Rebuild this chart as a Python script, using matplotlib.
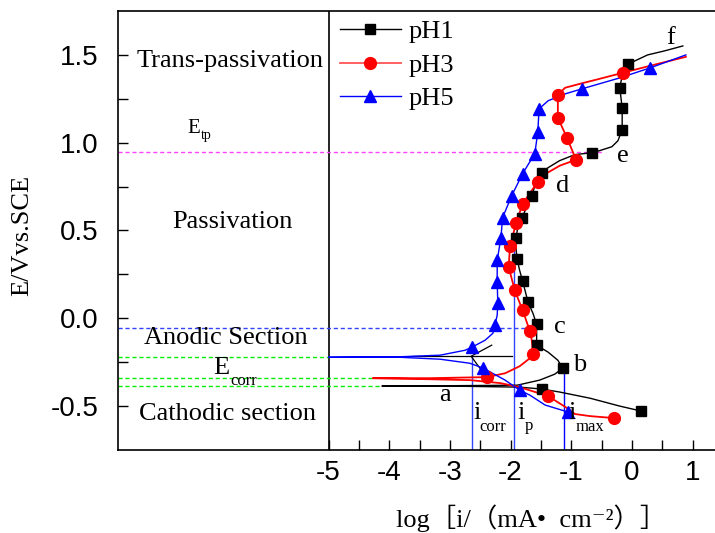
import matplotlib.pyplot as plt
from matplotlib.lines import Line2D

plt.rcParams['font.family'] = ['Liberation Serif', 'DejaVu Serif']

# polarization curves, log i (x) vs E (y)
ph1_x = [0.15, -0.20, -0.69, -1.19, -1.48, -1.85, -3.00, -4.12, -3.00, -1.89, -1.52, -1.27,
         -1.14, -1.22, -1.38, -1.57, -1.57, -1.63, -1.71, -1.80, -1.85, -1.89, -1.91, -1.91,
         -1.88, -1.81, -1.73, -1.65, -1.58, -1.48, -1.38, -1.19, -0.94, -0.66, -0.53, -0.33,
         -0.23, -0.16, -0.16, -0.20, -0.16, -0.07, 0.05, 0.26, 0.54, 0.84]
ph1_y = [-0.528, -0.500, -0.455, -0.420, -0.403, -0.392, -0.386, -0.386, -0.384, -0.381, -0.352, -0.318,
         -0.284, -0.239, -0.193, -0.153, -0.034, 0.028, 0.091, 0.210, 0.273, 0.335, 0.398, 0.460,
         0.517, 0.574, 0.636, 0.699, 0.773, 0.830, 0.858, 0.898, 0.932, 0.943, 0.955, 0.977,
         1.011, 1.074, 1.199, 1.313, 1.381, 1.443, 1.466, 1.500, 1.523, 1.551]
ph1_mx = [-0.07, -0.20, -0.16, -0.16, -0.66, -1.48, -1.65, -1.81, -1.91, -1.89, -1.80, -1.71,
          -1.57, -1.57, -1.14, -1.48, 0.15]
ph1_my = [1.449, 1.313, 1.199, 1.074, 0.943, 0.830, 0.699, 0.574, 0.460, 0.335, 0.210, 0.091,
          -0.034, -0.153, -0.284, -0.403, -0.528]

ph3_x = [-0.30, -0.69, -0.94, -1.07, -1.38, -1.85, -2.17, -2.67, -3.33, -4.27, -3.33, -2.39,
         -2.09, -1.85, -1.68, -1.63, -1.65, -1.68, -1.80, -1.93, -2.03, -2.01, -1.91, -1.80,
         -1.55, -1.47, -1.19, -0.92, -1.07, -1.22, -1.22, -1.10, -0.86, -0.53, -0.15, 0.30, 0.89]
ph3_y = [-0.568, -0.557, -0.545, -0.511, -0.443, -0.392, -0.369, -0.352, -0.347, -0.341, -0.341, -0.335,
         -0.313, -0.273, -0.227, -0.205, -0.125, -0.074, 0.045, 0.159, 0.290, 0.409, 0.540, 0.653,
         0.778, 0.813, 0.869, 0.903, 1.028, 1.142, 1.273, 1.313, 1.335, 1.364, 1.398, 1.438, 1.489]
ph3_mx = [-0.15, -1.22, -1.22, -1.07, -0.92, -1.55, -1.80, -1.91, -2.01, -2.03, -1.93, -1.80,
          -1.68, -1.63, -2.39, -1.38, -0.30]
ph3_my = [1.398, 1.273, 1.142, 1.028, 0.903, 0.778, 0.653, 0.540, 0.409, 0.290, 0.159, 0.045,
          -0.074, -0.205, -0.335, -0.443, -0.568]

ph5_x = [-1.05, -1.43, -1.68, -1.85, -2.09, -2.45, -2.67, -3.16, -3.82, -5.00, -3.82, -3.16,
         -2.75, -2.64, -2.42, -2.29, -2.26, -2.22, -2.21, -2.22, -2.22, -2.16, -2.13, -1.98,
         -1.80, -1.60, -1.55, -1.53, -1.38, -1.10, -0.82, -0.20, 0.30, 0.89]
ph5_y = [-0.534, -0.494, -0.438, -0.409, -0.352, -0.284, -0.256, -0.233, -0.222, -0.222, -0.219, -0.210,
         -0.182, -0.165, -0.125, -0.085, -0.040, 0.017, 0.085, 0.205, 0.330, 0.455, 0.574, 0.699,
         0.824, 0.938, 1.063, 1.193, 1.239, 1.278, 1.307, 1.369, 1.426, 1.500]
ph5_mx = [0.30, -0.82, -1.53, -1.55, -1.60, -1.80, -1.98, -2.13, -2.16, -2.22, -2.22, -2.21,
          -2.26, -2.64, -2.45, -1.85, -1.05]
ph5_my = [1.426, 1.307, 1.193, 1.063, 0.938, 0.824, 0.699, 0.574, 0.455, 0.330, 0.205, 0.085,
          -0.040, -0.165, -0.284, -0.409, -0.534]

# characteristic potentials and currents
e_tp = 0.949
e_anodic = -0.057
e_corr = [-0.222, -0.341, -0.386]
e_corr_end = [-5.00, -4.27, -4.12]
i_corr, i_p, i_max = -2.64, -1.94, -1.12

x_min, x_max = -8.47, 1.37
y_min, y_max = -0.75, 1.75

fig = plt.figure(figsize=(7.15, 5.33), dpi=100)
ax = fig.add_axes([118 / 715, 83 / 533, 597 / 715, 439 / 533])
ax.set_xlim(x_min, x_max)
ax.set_ylim(y_min, y_max)

# dividing line between the text panel and the plot
ax.axvline(-5, color='black', lw=1.2)

# reference lines
ax.plot([x_min, -0.48], [e_tp, e_tp], color='#ff44ff', lw=1, ls=(0, (3, 2)))
ax.plot([x_min, -1.68], [e_anodic, e_anodic], color='#3344ff', lw=1, ls=(0, (3, 2)))
for yv, xe in zip(e_corr, e_corr_end):
    ax.plot([x_min, xe], [yv, yv], color='#00ee00', lw=1, ls=(0, (3, 2)))
ax.plot([i_corr, i_corr], [y_min, -0.222], color='#3344ff', lw=1)
ax.plot([i_p, i_p], [y_min, 0.46], color='#3344ff', lw=1)
ax.plot([i_max, i_max], [y_min, -0.284], color='#0000ff', lw=1)

# E_corr pointer
ax.plot([-3.62, -1.98], [-0.216, -0.216], color='black', lw=0.9)
ax.plot([-2.45, -2.65, -2.31], [-0.31, -0.216, -0.153], color='black', lw=0.9)

# curves
ax.plot(ph1_x, ph1_y, color='black', lw=1.0)
ax.plot(ph3_x, ph3_y, color='red', lw=1.3)
ax.plot(ph5_x, ph5_y, color='blue', lw=1.0)
ax.plot(ph1_mx, ph1_my, ls='none', marker='s', ms=7, color='black')
ax.plot(ph3_mx, ph3_my, ls='none', marker='o', ms=8.5, color='red')
ax.plot(ph5_mx, ph5_my, ls='none', marker='^', ms=9, color='blue')

# ticks
ax.set_xticks([-5, -4, -3, -2, -1, 0, 1])
ax.set_xticklabels(['-5', '-4', '-3', '-2', '-1', '0', '1'])
ax.set_xticks([-4.5, -3.5, -2.5, -1.5, -0.5, 0.5], minor=True)
ax.set_yticks([-0.5, 0.0, 0.5, 1.0, 1.5])
ax.set_yticklabels(['-0.5', '0.0', '0.5', '1.0', '1.5'])
ax.set_yticks([-0.25, 0.25, 0.75, 1.25], minor=True)
ax.tick_params(which='both', direction='in', length=7, width=1, labelsize=20,
               labelfontfamily='Liberation Sans')
ax.tick_params(axis='x', which='major', pad=7)
ax.tick_params(axis='y', which='major', pad=14)
for s in ['left', 'bottom', 'top']:
    ax.spines[s].set_linewidth(1.2)
ax.spines['right'].set_visible(False)

# region labels
fs = 19
ax.text(-6.62, 1.432, 'Trans-passivation', fontsize=fs, ha='center', va='baseline')
ax.text(-6.59, 0.517, 'Passivation', fontsize=fs, ha='center', va='baseline')
ax.text(-6.70, -0.148, 'Anodic Section', fontsize=fs, ha='center', va='baseline')
ax.text(-6.66, -0.580, 'Cathodic section', fontsize=fs, ha='center', va='baseline')
ax.text(-6.90, -0.318, 'E', fontsize=fs, ha='left', va='baseline')
ax.text(-6.62, -0.381, 'corr', fontsize=12, ha='left', va='baseline')
ax.text(-7.33, 1.057, 'E', fontsize=15, ha='left', va='baseline')
ax.text(-7.10, 1.023, 'tp', fontsize=10, ha='left', va='baseline')

# current labels
ax.text(-2.62, -0.574, 'i', fontsize=fs, ha='left', va='baseline')
ax.text(-2.52, -0.642, 'corr', fontsize=12, ha='left', va='baseline')
ax.text(-1.88, -0.574, 'i', fontsize=fs, ha='left', va='baseline')
ax.text(-1.76, -0.635, 'p', fontsize=12, ha='left', va='baseline')
ax.text(-1.04, -0.574, 'i', fontsize=fs, ha='left', va='baseline')
ax.text(-0.92, -0.642, 'max', fontsize=12, ha='left', va='baseline')

# curve point letters
for lab, lx, ly in [('a', -3.08, -0.438), ('b', -0.86, -0.267), ('c', -1.19, -0.051),
                    ('d', -1.14, 0.756), ('e', -0.15, 0.926), ('f', 0.63, 1.597)]:
    ax.text(lx, ly, lab, fontsize=fs, ha='center', va='center')

# legend
handles = [Line2D([], [], color='black', lw=1, marker='s', ms=7),
           Line2D([], [], color='#ff5555', lw=1.3, marker='o', ms=8.5, mfc='red', mec='red'),
           Line2D([], [], color='blue', lw=1, marker='^', ms=9)]
ax.legend(handles, ['pH1', 'pH3', 'pH5'], loc='upper left',
          bbox_to_anchor=((340 - 118) / 597, (450 - 20) / 439), frameon=False,
          fontsize=fs, handlelength=2.3, handletextpad=0.3, labelspacing=0.38,
          borderpad=0, borderaxespad=0)

# axis titles
fig.text(22 / 715, 1 - 235 / 533, 'E/Vvs.SCE', fontsize=19, rotation=90, ha='center', va='center')
fig.text(531 / 715, 1 - 518 / 533, 'log［i/（mA•  cm⁻²）］', fontsize=19,
         family=['Liberation Serif', 'DejaVu Serif', 'Noto Sans CJK SC'], ha='center', va='center')

fig.savefig('out.png', dpi=100)
